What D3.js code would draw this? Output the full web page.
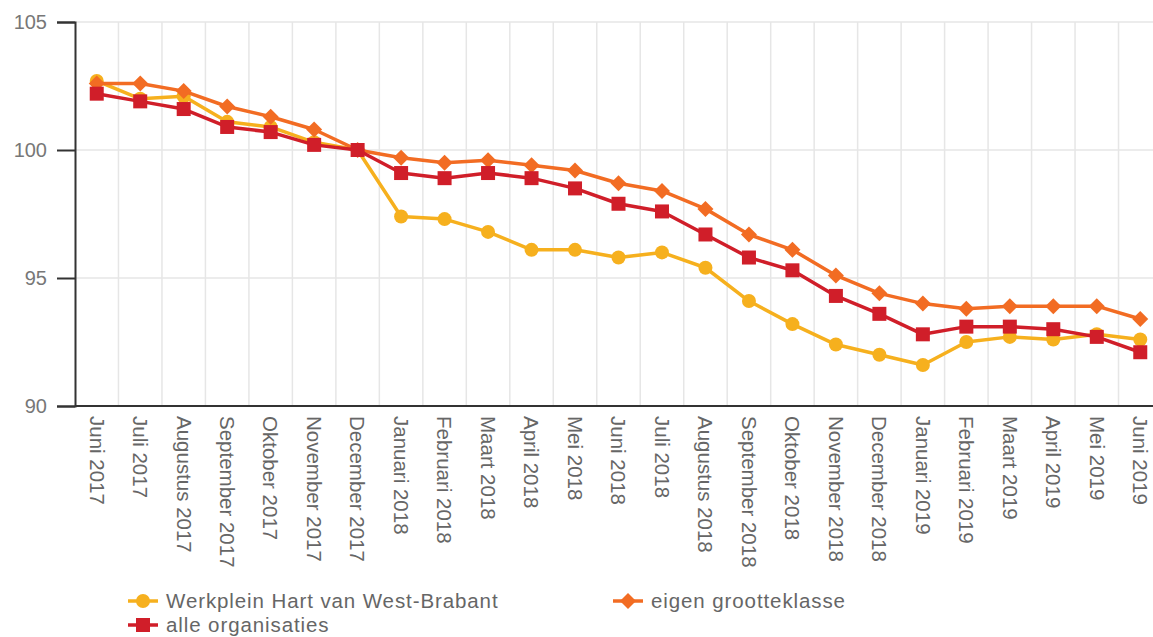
<!DOCTYPE html>
<html>
<head>
<meta charset="utf-8">
<script src="https://cdn.jsdelivr.net/npm/d3@7"></script>
<style>
  html, body { margin: 0; padding: 0; background: #fff; }
  svg { display: block; font-family: "Liberation Sans", Arial, sans-serif; }
</style>
</head>
<body>
<svg id="chart" width="1153" height="637"></svg>
<script>
const months = ["Juni 2017","Juli 2017","Augustus 2017","September 2017","Oktober 2017","November 2017","December 2017",
  "Januari 2018","Februari 2018","Maart 2018","April 2018","Mei 2018","Juni 2018","Juli 2018","Augustus 2018",
  "September 2018","Oktober 2018","November 2018","December 2018","Januari 2019","Februari 2019","Maart 2019",
  "April 2019","Mei 2019","Juni 2019"];
const werkplein = [102.7,102.0,102.1,101.1,100.9,100.3,100.0,97.4,97.3,96.8,96.1,96.1,95.8,96.0,95.4,94.1,93.2,92.4,92.0,91.6,92.5,92.7,92.6,92.8,92.6];
const eigen     = [102.6,102.6,102.3,101.7,101.3,100.8,100.0,99.7,99.5,99.6,99.4,99.2,98.7,98.4,97.7,96.7,96.1,95.1,94.4,94.0,93.8,93.9,93.9,93.9,93.4];
const alle      = [102.2,101.9,101.6,100.9,100.7,100.2,100.0,99.1,98.9,99.1,98.9,98.5,97.9,97.6,96.7,95.8,95.3,94.3,93.6,92.8,93.1,93.1,93.0,92.7,92.1];
const yTicks = [90, 95, 100, 105];
const seriesNames = ["Werkplein Hart van West-Brabant", "eigen grootteklasse", "alle organisaties"];

const colors = { yellow: "#F6B01E", orange: "#F26C23", red: "#D01E29" };
const series = [
  { name: seriesNames[0], values: werkplein, color: colors.yellow, shape: "circle" },
  { name: seriesNames[1], values: eigen, color: colors.orange, shape: "diamond" },
  { name: seriesNames[2], values: alle, color: colors.red, shape: "square" }
];

const svg = d3.select("#chart");
const x = d3.scaleBand().domain(months).range([75, 1162]).padding(0);
const y = d3.scaleLinear().domain([90, 105]).range([406, 22]);
const cx = d => x(d) + x.bandwidth() / 2;

// gridlines
const grid = svg.append("g");
grid.selectAll("line.v").data(months.slice(1)).enter().append("line")
  .attr("x1", d => x(d)).attr("x2", d => x(d))
  .attr("y1", y(105)).attr("y2", y(90))
  .attr("stroke", "#e6e6e6").attr("stroke-width", 1.5);
grid.selectAll("line.h").data(yTicks.filter(t => t > 90)).enter().append("line")
  .attr("x1", 75).attr("x2", 1153)
  .attr("y1", d => y(d)).attr("y2", d => y(d))
  .attr("stroke", "#e6e6e6").attr("stroke-width", 1.5);

// y axis
const yAxis = svg.append("g").attr("transform", "translate(75,0)")
  .call(d3.axisLeft(y).tickValues(yTicks).tickSize(18).tickPadding(10).tickFormat(d3.format("d")));
yAxis.select(".domain").attr("stroke", "#333").attr("stroke-width", 2);
yAxis.selectAll(".tick line").attr("stroke", "#333").attr("stroke-width", 2);
yAxis.selectAll(".tick text").attr("font-size", 20).attr("fill", "#777")
  .attr("font-family", "'Liberation Sans', Arial, sans-serif");

// x axis
const xAxis = svg.append("g").attr("transform", "translate(0,406)")
  .call(d3.axisBottom(x).tickSize(0).tickPadding(0));
xAxis.select(".domain").attr("stroke", "#333").attr("stroke-width", 2)
  .attr("d", "M75,0H1153");
xAxis.selectAll(".tick text")
  .attr("font-size", 20.5).attr("fill", "#666")
  .attr("font-family", "'Liberation Sans', Arial, sans-serif")
  .attr("text-anchor", "start")
  .attr("transform", "rotate(90)")
  .attr("x", 10).attr("y", 0).attr("dy", "0.35em");

// marker drawing
function drawMarker(g, shape, color) {
  if (shape === "circle") {
    g.append("circle").attr("r", 7).attr("fill", color);
  } else if (shape === "square") {
    g.append("rect").attr("x", -7).attr("y", -7).attr("width", 14).attr("height", 14).attr("fill", color);
  } else {
    g.append("path").attr("d", "M0,-8L8,0L0,8L-8,0Z").attr("fill", color);
  }
}

const line = d3.line().x((d, i) => cx(months[i])).y(d => y(d));
series.forEach(s => {
  const g = svg.append("g");
  g.append("path").datum(s.values).attr("d", line)
    .attr("fill", "none").attr("stroke", s.color).attr("stroke-width", 3.5)
    .attr("stroke-linejoin", "round");
  s.values.forEach((v, i) => {
    const m = g.append("g").attr("transform", `translate(${cx(months[i])},${y(v)})`);
    drawMarker(m, s.shape, s.color);
  });
});

// legend
const legendPos = [
  { x: 128, y: 601 },
  { x: 613, y: 601 },
  { x: 128, y: 625 }
];
series.forEach((s, i) => {
  const p = legendPos[i];
  const g = svg.append("g").attr("transform", `translate(${p.x},${p.y})`);
  g.append("line").attr("x1", 0).attr("x2", 30).attr("y1", 0).attr("y2", 0)
    .attr("stroke", s.color).attr("stroke-width", 3.5);
  const m = g.append("g").attr("transform", "translate(15,0)");
  drawMarker(m, s.shape, s.color);
  g.append("text").attr("x", 38).attr("y", 0).attr("dy", "0.35em")
    .attr("font-size", 20.5).attr("letter-spacing", 0.9).attr("fill", "#666").text(s.name);
});
</script>
</body>
</html>
